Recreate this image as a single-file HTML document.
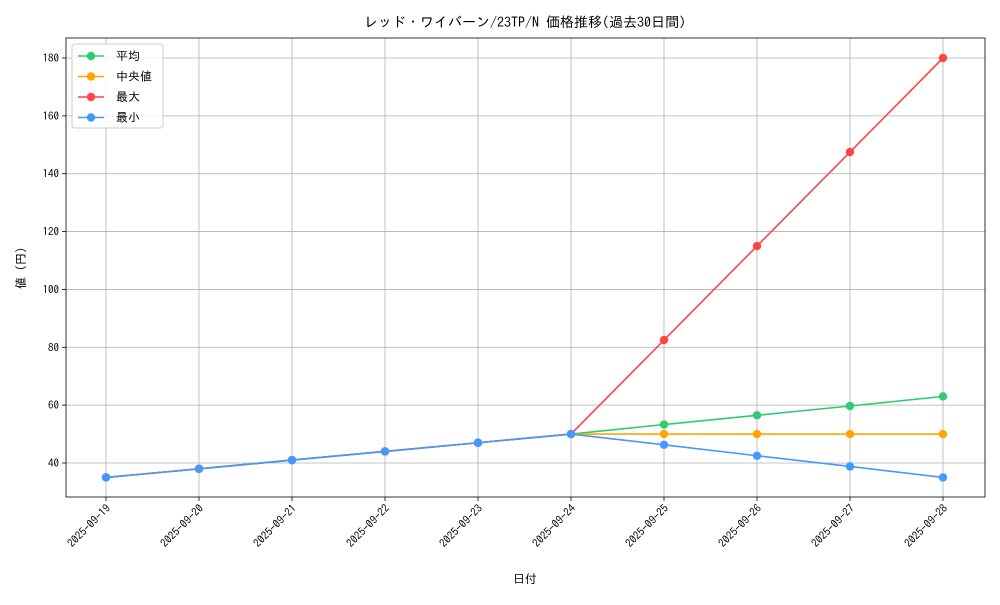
<!DOCTYPE html>
<html><head><meta charset="utf-8">
<style>
body{margin:0;background:#fff;}
svg text{font-family:"IPAGothic","Noto Sans CJK JP",monospace;fill:#000;}
</style></head>
<body>
<svg id="chart" width="1000" height="600" xmlns="http://www.w3.org/2000/svg">
<rect width="1000" height="600" fill="#fff"/>
<g id="grid"></g>
<g id="series"></g>
<g id="axes"></g>
<text x="525" y="27" font-size="14" text-anchor="middle">レッド・ワイバーン/23TP/N 価格推移(過去30日間)</text>
<text x="525" y="583" font-size="12" text-anchor="middle">日付</text>
<text x="25" y="268" font-size="12" text-anchor="middle" transform="rotate(-90 25 268)">値 (円)</text>
<g id="legend"></g>
</svg>
<script>
const categories=["2025-09-19","2025-09-20","2025-09-21","2025-09-22","2025-09-23","2025-09-24","2025-09-25","2025-09-26","2025-09-27","2025-09-28"];
const avgValues=[35,38,41,44,47,50,53.3,56.5,59.7,63];
const medianValues=[35,38,41,44,47,50,50,50,50,50];
const maxValues=[35,38,41,44,47,50,82.5,115,147.5,180];
const minValues=[35,38,41,44,47,50,46.3,42.5,38.8,35];
const yTicks=[40,60,80,100,120,140,160,180];
const seriesNames=["平均","中央値","最大","最小"];
const NS="http://www.w3.org/2000/svg";
const L=66,R=985,T=38,B=497;
function xs(i){return 106+i*(943-106)/(categories.length-1);}
function ys(v){return 463-(v-40)*(463-58)/140;}
function mk(tag,attrs,parent){const e=document.createElementNS(NS,tag);for(const k in attrs)e.setAttribute(k,attrs[k]);parent.appendChild(e);return e;}
const grid=document.getElementById('grid'),axes=document.getElementById('axes'),ser=document.getElementById('series'),leg=document.getElementById('legend');
categories.forEach((c,i)=>{
  const x=xs(i);
  const g=mk('line',{x1:x,x2:x,y1:T,y2:B,stroke:'#b0b0b0','stroke-width':0.8},grid);
  
  
  mk('line',{x1:x,x2:x,y1:B,y2:B+4,stroke:'#000','stroke-width':0.8},axes);
  const t=mk('text',{x:x+5,y:B+12,'font-size':11,'text-anchor':'end',transform:`rotate(-45 ${x+5} ${B+12})`},axes);
  t.textContent=c;
  
  
});
yTicks.forEach(v=>{
  const y=ys(v);
  const g=mk('line',{x1:L,x2:R,y1:y,y2:y,stroke:'#b0b0b0','stroke-width':0.8},grid);
  
  
  mk('line',{x1:L-4,x2:L,y1:y,y2:y,stroke:'#000','stroke-width':0.8},axes);
  const t=mk('text',{x:L-7,y:y+4,'font-size':11,'text-anchor':'end'},axes);
  t.textContent=v;
  
  
});
const frame=mk('rect',{x:L,y:T,width:R-L,height:B-T,fill:'none',stroke:'#000','stroke-width':0.8},axes);


const all=[avgValues,medianValues,maxValues,minValues];
const colors=["#2ecc71","#ffa500","#ff4444","#4499ff"];
const names=["series-average","series-median","series-max","series-min"];
all.forEach((vals,s)=>{
  const g=mk('g',{},ser);
  
  
  const pts=vals.map((v,i)=>xs(i)+','+ys(v)).join(' ');
  const pl=mk('polyline',{points:pts,fill:'none',stroke:colors[s],'stroke-width':1.6},g);
  
  
  vals.forEach((v,i)=>{
    const c=mk('circle',{cx:xs(i),cy:ys(v),r:4.2,fill:colors[s]},g);
    
    
  });
});
const box=mk('rect',{x:72,y:44,width:91,height:84,rx:3,fill:'#fff','fill-opacity':0.85,stroke:'#ccc','stroke-width':1},leg);


seriesNames.forEach((n,s)=>{
  const y=56+s*20.5;
  const g=mk('g',{},leg);
  
  
  mk('line',{x1:78,x2:104,y1:y,y2:y,stroke:colors[s],'stroke-width':1.6},g);
  mk('circle',{cx:91,cy:y,r:4.2,fill:colors[s]},g);
  const t=mk('text',{x:116,y:y+4,'font-size':12},g);
  t.textContent=n;
});
</script>
</body></html>
